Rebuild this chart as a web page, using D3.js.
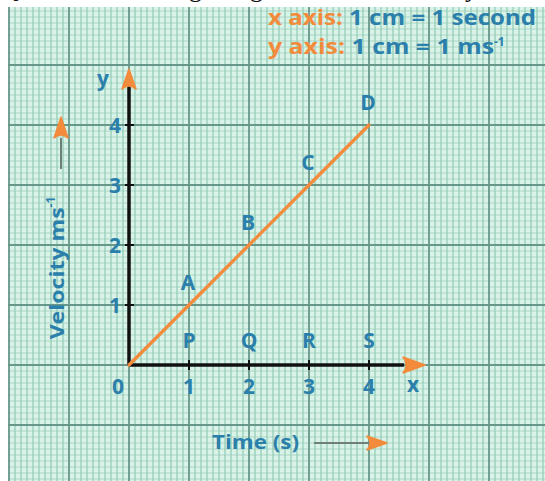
<!DOCTYPE html>
<html>
<head>
<meta charset="utf-8">
<script src="https://cdn.jsdelivr.net/npm/d3@7/dist/d3.min.js"></script>
<style>
  html, body { margin: 0; padding: 0; background: #fff; }
  svg { display: block; }
  .lbl { font-family: "Open Sans", "DejaVu Sans", sans-serif; font-weight: 700; fill: #2b7fab; }
</style>
</head>
<body>
<svg id="chart" width="545" height="481"></svg>
<script>
// Velocity–time graph for uniform acceleration
const timeValues = [0, 1, 2, 3, 4];          // seconds
const velocityValues = [0, 1, 2, 3, 4];      // m/s
const pointLabels = ["", "A", "B", "C", "D"];
const footLabels = ["", "P", "Q", "R", "S"];
const xTickLabels = ["0", "1", "2", "3", "4"];
const yTickLabels = ["1", "2", "3", "4"];

const BLUE = "#2b7fab";
const ORANGE = "#f28b3b";

const svg = d3.select("#chart");
const W = 545, H = 481;

// 1 cm on the paper = 60 px
const x = d3.scaleLinear().domain([0, 4]).range([129, 369]);
const y = d3.scaleLinear().domain([0, 4]).range([365, 125]);

// question line above the sheet (only its descenders reach into view)
const q = svg.append("g").attr("font-family", "Liberation Serif, serif").attr("font-size", 26).attr("fill", "#111");
q.append("text").attr("x", 0).attr("y", -3).text("Q.");
q.append("text").attr("x", 202).attr("y", -3).attr("text-anchor", "end").text("the following");
q.append("text").attr("x", 263).attr("y", -3).attr("text-anchor", "end").text("using");
q.append("text").attr("x", 478).attr("y", -3).attr("text-anchor", "end").text("the velocity");

// graph paper
const paper = { x0: 8, y0: 7, x1: W, y1: H };
svg.append("clipPath").attr("id", "paperClip")
  .append("rect").attr("x", paper.x0).attr("y", paper.y0)
  .attr("width", paper.x1 - paper.x0).attr("height", paper.y1 - paper.y0);

const grid = svg.append("g").attr("clip-path", "url(#paperClip)");
grid.append("rect").attr("x", paper.x0).attr("y", paper.y0)
  .attr("width", paper.x1 - paper.x0).attr("height", paper.y1 - paper.y0)
  .attr("fill", "#daf3e9");

const xs = d3.range(-22, 72).map(d => d / 10);
const ys = d3.range(-21, 62).map(d => d / 10);
const isMajor = v => Math.abs(v - Math.round(v)) < 1e-6;

grid.selectAll("line.hmin").data(ys.filter(v => !isMajor(v))).join("line")
  .attr("y1", d => y(d)).attr("y2", d => y(d)).attr("x1", paper.x0).attr("x2", paper.x1)
  .attr("stroke", "#a9d8c6").attr("stroke-width", 1.2);
grid.selectAll("line.vmin").data(xs.filter(v => !isMajor(v))).join("line")
  .attr("x1", d => x(d)).attr("x2", d => x(d)).attr("y1", paper.y0).attr("y2", paper.y1)
  .attr("stroke", "#95ccb8").attr("stroke-width", 1.3);
grid.selectAll("line.vmaj").data(xs.filter(isMajor)).join("line")
  .attr("x1", d => x(d)).attr("x2", d => x(d)).attr("y1", paper.y0).attr("y2", paper.y1)
  .attr("stroke", "#679789").attr("stroke-width", 1.8);
grid.selectAll("line.hmaj").data(ys.filter(isMajor)).join("line")
  .attr("y1", d => y(d)).attr("y2", d => y(d)).attr("x1", paper.x0).attr("x2", paper.x1)
  .attr("stroke", "#679789").attr("stroke-width", 1.8);

// scale note
const note = svg.append("g").attr("class", "lbl").attr("font-size", 21).attr("font-weight", 600);
const n1 = note.append("text").attr("x", 268).attr("y", 25).attr("textLength", 268).attr("lengthAdjust", "spacingAndGlyphs");
n1.append("tspan").attr("fill", ORANGE).text("x axis: ");
n1.append("tspan").text("1 cm = 1 second");
const n2 = note.append("text").attr("x", 268).attr("y", 54);
const n2a = n2.append("tspan").attr("textLength", 226).attr("lengthAdjust", "spacingAndGlyphs");
n2a.append("tspan").attr("fill", ORANGE).text("y axis: ");
n2a.append("tspan").text("1 cm = 1 ms");
n2.append("tspan").attr("font-size", 12).attr("dy", -8).text("-1");

// axes
const axes = svg.append("g");
axes.append("line").attr("x1", x(0)).attr("x2", 404).attr("y1", y(0)).attr("y2", y(0))
  .attr("stroke", "#111").attr("stroke-width", 3.5);
axes.append("line").attr("x1", x(0)).attr("x2", x(0)).attr("y1", y(0) + 1).attr("y2", 86)
  .attr("stroke", "#111").attr("stroke-width", 3.5);

// ticks
axes.selectAll("line.xt").data(timeValues.slice(1)).join("line")
  .attr("x1", d => x(d)).attr("x2", d => x(d)).attr("y1", y(0) - 5).attr("y2", y(0) + 5)
  .attr("stroke", "#111").attr("stroke-width", 2);
axes.selectAll("line.yt").data(velocityValues.slice(1)).join("line")
  .attr("y1", d => y(d)).attr("y2", d => y(d)).attr("x1", x(0) - 4).attr("x2", x(0) + 5)
  .attr("stroke", "#111").attr("stroke-width", 2);

// arrow heads
function arrowHead(g, cx, cy, angle, len, half) {
  g.append("path")
    .attr("d", `M0,0 L${-len},${-half} Q${-len * 0.7},0 ${-len},${half} Z`)
    .attr("transform", `translate(${cx},${cy}) rotate(${angle})`)
    .attr("fill", ORANGE).attr("stroke", ORANGE).attr("stroke-width", 1.5).attr("stroke-linejoin", "round");
}
arrowHead(axes, 425, y(0), 0, 22, 8);
arrowHead(axes, x(0), 69, -90, 20, 7);

// tick labels
const labels = svg.append("g").attr("class", "lbl").attr("font-size", 21).attr("font-weight", 600);
labels.selectAll("text.xl").data(timeValues).join("text")
  .attr("x", d => d === 0 ? x(0) - 11 : x(d)).attr("y", y(0) + 29)
  .attr("text-anchor", "middle").text((d, i) => xTickLabels[i]);
labels.selectAll("text.yl").data(velocityValues.slice(1)).join("text")
  .attr("x", x(0) - 14).attr("y", d => y(d) + 8)
  .attr("text-anchor", "middle").text((d, i) => yTickLabels[i]);
labels.append("text").attr("x", 413).attr("y", y(0) + 27).attr("text-anchor", "middle").text("x");
labels.append("text").attr("x", 103).attr("y", 86).attr("text-anchor", "middle").text("y");

// P, Q, R, S above the x axis
labels.selectAll("text.foot").data(timeValues.slice(1)).join("text")
  .attr("x", d => x(d)).attr("y", y(0) - 17).attr("text-anchor", "middle")
  .text((d, i) => footLabels[i + 1]);

// velocity line
svg.append("path")
  .datum(timeValues.map((t, i) => [t, velocityValues[i]]))
  .attr("d", d3.line().x(d => x(d[0])).y(d => y(d[1])))
  .attr("fill", "none").attr("stroke", ORANGE).attr("stroke-width", 3.3).attr("stroke-linecap", "round");

// point labels A–D
labels.selectAll("text.pt").data(timeValues.slice(1)).join("text")
  .attr("x", (d, i) => x(d) - 1).attr("y", (d, i) => y(velocityValues[i + 1]) - 15)
  .attr("text-anchor", "middle").text((d, i) => pointLabels[i + 1]);

// axis titles
const vt = svg.append("text").attr("class", "lbl").attr("font-size", 19).attr("font-weight", 600)
  .attr("transform", "translate(64,268) rotate(-90)").attr("text-anchor", "middle");
vt.append("tspan").attr("textLength", 132).attr("lengthAdjust", "spacingAndGlyphs").text("Velocity ms");
vt.append("tspan").attr("font-size", 12).attr("dy", -9).text("-1");
svg.append("line").attr("x1", 61).attr("x2", 61).attr("y1", 169).attr("y2", 138)
  .attr("stroke", "#6f7f7a").attr("stroke-width", 2);
arrowHead(svg, 61, 117, -90, 21, 7);

svg.append("text").attr("class", "lbl").attr("font-size", 19).attr("font-weight", 600)
  .attr("x", 212).attr("y", 449).attr("textLength", 87).attr("lengthAdjust", "spacingAndGlyphs")
  .text("Time (s)");
svg.append("line").attr("x1", 314).attr("x2", 370).attr("y1", 443).attr("y2", 443)
  .attr("stroke", "#6f7f7a").attr("stroke-width", 2);
arrowHead(svg, 387, 443, 0, 20, 7);
</script>
</body>
</html>
